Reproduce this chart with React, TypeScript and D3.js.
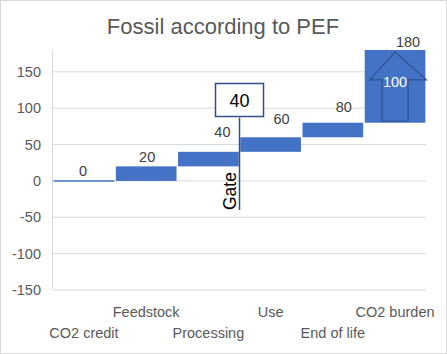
import React from 'react';
import * as d3 from 'd3';

// chart data
const categories = ['CO2 credit', 'Feedstock', 'Processing', 'Use', 'End of life', 'CO2 burden'];
const steps = [0, 20, 20, 20, 20, 100]; // increment per stage
const yTicks = [-150, -100, -50, 0, 50, 100, 150];
const gateValue = 40;
const gateRange = [-40, 87]; // extent of the gate marker line

const W = 447;
const H = 354;
const font = '"Liberation Sans", Arial, sans-serif';
const blue = '#4472C4';
const darkBlue = '#2F528F';

// nudges for the value labels (dx, dy in px)
const labelDx = [-1, 1, 14, 11, 11, 13];
const labelDy = [-5, -4, -15, -13, -11, -3];

const App = () => {
  const x = d3.scaleBand<string>().domain(categories).range([53, 426]).paddingInner(0.025).paddingOuter(0.01);
  const y = d3.scaleLinear().domain([-150, 180]).range([290, 50]);

  // running totals for the waterfall
  const ends = d3.cumsum(steps);
  const bars = categories.map((c, i) => ({
    c,
    start: i === 0 ? 0 : ends[i - 1],
    end: ends[i],
  }));

  const gateX = (x(categories[2])! + x.bandwidth() + x(categories[3])!) / 2;
  const last = bars[bars.length - 1];
  const lx = x(last.c)!;
  const bw = x.bandwidth();
  const cx = lx + bw / 2;
  const tipY = y(last.end) + 2;
  const headY = y(last.end - 41);
  const baseY = y(last.start + 2);
  const arrow = [
    [cx, tipY], [lx + bw + 1, headY], [cx + 13, headY], [cx + 13, baseY],
    [cx - 13, baseY], [cx - 13, headY], [lx + 5, headY],
  ];

  return (
    <svg width={W} height={H} style={{ display: 'block', position: 'absolute', left: 0, top: 0 }} fontFamily={font}>
      <rect x={0.5} y={0.5} width={W - 1} height={H - 1} fill="#fff" stroke="#d9d9d9" />
      <text x={223} y={34} textAnchor="middle" fontSize={22} fill="#595959">Fossil according to PEF</text>

      {yTicks.map(t => (
        <g key={t}>
          <line x1={53} x2={426} y1={y(t)} y2={y(t)} stroke="#d9d9d9" />
          <text x={41} y={y(t) + 5} textAnchor="end" fontSize={14.5} fill="#595959">{t}</text>
        </g>
      ))}
      <line x1={52.5} x2={52.5} y1={50} y2={290} stroke="#d9d9d9" />

      {bars.map(b => {
        const top = y(Math.max(b.start, b.end));
        const h = Math.abs(y(b.start) - y(b.end));
        return h < 1
          ? <line key={b.c} x1={x(b.c)!} x2={x(b.c)! + x.bandwidth()} y1={top} y2={top} stroke={blue} strokeWidth={1.5} />
          : <rect key={b.c} x={x(b.c)!} y={top} width={x.bandwidth()} height={h} fill={blue} />;
      })}

      <polygon points={arrow.map(p => p.join(',')).join(' ')} fill={blue} stroke={darkBlue} strokeWidth={1.2} />
      <text x={cx} y={y(last.start + steps[steps.length - 1] / 2) + 1} textAnchor="middle" fontSize={14.5} fill="#fff">
        {steps[steps.length - 1]}
      </text>

      {bars.map((b, i) => (
        <text key={b.c} x={x(b.c)! + x.bandwidth() / 2 + labelDx[i]} y={y(b.end) + labelDy[i]}
          textAnchor="middle" fontSize={14.5} fill="#404040">{b.end}</text>
      ))}

      <line x1={gateX} x2={gateX} y1={y(gateRange[0])} y2={y(gateRange[1])} stroke={darkBlue} strokeWidth={1.5} />
      <text transform={`translate(${gateX - 4},${y(gateRange[0])}) rotate(-90)`} fontSize={17.5} fill="#000">Gate</text>
      <rect x={gateX - 24} y={83.5} width={48} height={33} fill="#fff" stroke={darkBlue} strokeWidth={1.5} />
      <text x={gateX} y={107} textAnchor="middle" fontSize={18} fill="#000">{gateValue}</text>

      {categories.map((c, i) => (
        <text key={c} x={x(c)! + x.bandwidth() / 2} y={i % 2 === 0 ? 338 : 317} textAnchor="middle" fontSize={14.5} fill="#595959">{c}</text>
      ))}
    </svg>
  );
};

export default App;
